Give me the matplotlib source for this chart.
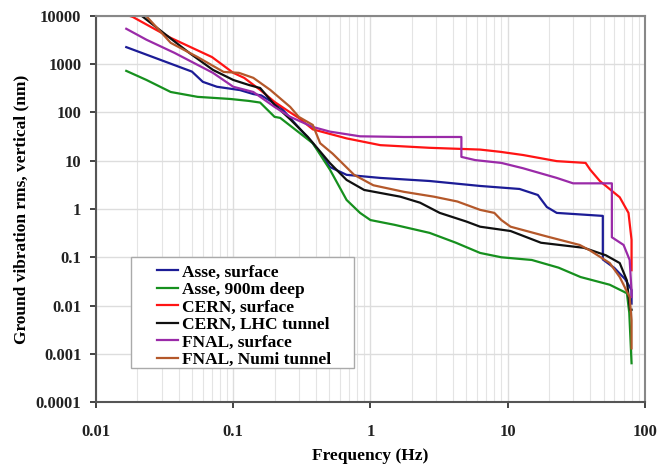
import numpy as np
import matplotlib.pyplot as plt
from matplotlib.patches import Rectangle

plt.rcParams['font.family'] = ['Liberation Serif', 'DejaVu Serif']
plt.rcParams['font.weight'] = 'bold'

# frequency (Hz) / rms amplitude (nm)
asse_surf_f = [0.0166, 0.05, 0.06, 0.076, 0.112, 0.14, 0.16, 0.22, 0.38, 0.507, 0.67, 1.18, 2.7, 6.3,
               12.2, 16.6, 19.3, 22.8, 49.4, 49.4, 60, 72, 80, 80]
asse_surf_a = [2250, 700, 430, 340, 290, 240, 225, 130, 23, 7.4, 5.1, 4.4, 3.8, 3.0,
               2.6, 1.95, 1.1, 0.83, 0.72, 0.09, 0.06, 0.035, 0.021, 0.011]

asse_deep_f = [0.0166, 0.0233, 0.035, 0.055, 0.095, 0.13, 0.157, 0.2, 0.22, 0.38, 0.507, 0.67, 0.84, 1.0,
               1.5, 2.7, 4.2, 6.3, 9.0, 15, 23.5, 34, 55.5, 74, 77, 80]
asse_deep_a = [725, 470, 265, 210, 190, 173, 160, 81, 77, 23, 6.5, 1.54, 0.83, 0.59,
               0.47, 0.32, 0.2, 0.123, 0.1, 0.088, 0.061, 0.039, 0.027, 0.018, 0.0071, 0.00064]

cern_surf_f = [0.0166, 0.0185, 0.035, 0.07, 0.1, 0.12, 0.157, 0.2, 0.26, 0.3, 0.38, 0.67, 1.18, 2.7, 6.3,
               8.8, 13.0, 22.8, 37, 40, 47, 65.6, 76, 80, 80]
cern_surf_a = [10500, 9500, 3500, 1400, 660, 520, 293, 165, 100, 77, 44.6, 29, 21, 18.5, 17,
               15.3, 13.1, 9.8, 9.0, 6.5, 3.8, 1.75, 0.83, 0.23, 0.054]

cern_lhc_f = [0.0205, 0.022, 0.0345, 0.0478, 0.0711, 0.1, 0.13, 0.157, 0.2, 0.26, 0.35, 0.507, 0.67, 0.9,
              1.65, 2.3, 3.2, 5.0, 6.3, 10.5, 17.5, 36, 52, 65.6, 74, 78, 80]
cern_lhc_a = [11000, 9500, 3500, 1710, 760, 470, 370, 320, 144, 72, 31, 8.9, 4.0, 2.48,
              1.8, 1.35, 0.83, 0.55, 0.43, 0.35, 0.2, 0.157, 0.11, 0.076, 0.033, 0.0082, 0.0082]

fnal_surf_f = [0.0166, 0.0233, 0.0373, 0.0711, 0.1, 0.14, 0.2, 0.26, 0.38, 0.507, 0.84, 1.75, 4.6, 4.6,
               5.8, 9.0, 12.9, 22.8, 30, 57.5, 57.5, 70, 77.5, 80, 80]
fnal_surf_a = [5400, 3200, 1710, 660, 340, 265, 130, 81, 50, 40, 32, 31, 31, 12,
               10.3, 9.0, 7.0, 4.4, 3.4, 3.4, 0.26, 0.18, 0.088, 0.02, 0.015]

fnal_numi_f = [0.0218, 0.0233, 0.035, 0.055, 0.085, 0.11, 0.14, 0.186, 0.26, 0.3, 0.38, 0.43, 0.53, 0.76,
               1.05, 1.75, 2.9, 4.3, 6.3, 8.0, 9.0, 10.5, 19.3, 33.5, 39.6, 55.5, 65.6, 77.5, 80, 80]
fnal_numi_a = [10500, 9800, 2760, 1400, 690, 660, 520, 293, 130, 81, 55, 23, 14, 5.1,
               3.1, 2.27, 1.8, 1.43, 0.96, 0.83, 0.59, 0.43, 0.27, 0.18, 0.14, 0.076, 0.039, 0.015, 0.005, 0.0013]

series = [
    ("Asse, surface", asse_surf_f, asse_surf_a, "#1c1c96"),
    ("Asse, 900m deep", asse_deep_f, asse_deep_a, "#16901e"),
    ("CERN, surface", cern_surf_f, cern_surf_a, "#ff1414"),
    ("CERN, LHC tunnel", cern_lhc_f, cern_lhc_a, "#101010"),
    ("FNAL, surface", fnal_surf_f, fnal_surf_a, "#9a2aa8"),
    ("FNAL, Numi tunnel", fnal_numi_f, fnal_numi_a, "#b4582a"),
]

fig = plt.figure(figsize=(6.58, 4.66), dpi=100)
ax = fig.add_axes([0.146, 0.137, 0.834, 0.829])

for name, f, a, c in series:
    ax.plot(f, a, color=c, lw=1.6, label=name)

ax.set_xscale("log")
ax.set_yscale("log")
ax.set_xlim(0.01, 100)
ax.set_ylim(0.0001, 10000)

xticks = [0.01, 0.1, 1, 10, 100]
yticks = [0.0001, 0.001, 0.01, 0.1, 1, 10, 100, 1000, 10000]
ax.set_xticks(xticks)
ax.set_xticklabels(["0.01", "0.1", "1", "10", "100"])
ax.set_yticks(yticks)
ax.set_yticklabels(["0.0001", "0.001", "0.01", "0.1", "1", "10", "100", "1000", "10000"])
ax.yaxis.set_minor_locator(plt.NullLocator())
ax.tick_params(which="minor", length=0)
ax.tick_params(which="major", direction="out", length=4.5, width=1.2, labelsize=12, colors="#222222")
ax.tick_params(axis="y", pad=6)
ax.tick_params(axis="x", pad=11)

ax.grid(True, which="major", color="#dddddd", lw=1)
ax.grid(True, which="minor", axis="x", color="#e4e4e4", lw=0.8)
ax.set_axisbelow(True)

for side in ["left", "bottom"]:
    ax.spines[side].set_color("#555555")
    ax.spines[side].set_linewidth(1.5)
for side in ["top", "right"]:
    ax.spines[side].set_color("#888888")
    ax.spines[side].set_linewidth(1.5)

ax.set_xlabel("Frequency (Hz)", fontsize=12.5, fontweight="bold", labelpad=6)
ax.set_ylabel("Ground vibration rms, vertical (nm)", fontsize=12.5, fontweight="bold", labelpad=5)

# legend box drawn separately: wide side padding like the original
ax.add_patch(Rectangle((0.064, 0.088), 0.406, 0.288, transform=ax.transAxes, facecolor="white",
                       edgecolor="#aaaaaa", lw=1, zorder=4))
leg = ax.legend(loc="upper left", bbox_to_anchor=(0.111, 0.357), fontsize=12.5, frameon=False,
                handlelength=1.2, handletextpad=0.25, labelspacing=0.08, borderpad=0, borderaxespad=0)
leg.set_zorder(5)
for t in leg.get_texts():
    t.set_fontweight("bold")

fig.savefig("out.png", dpi=100)
